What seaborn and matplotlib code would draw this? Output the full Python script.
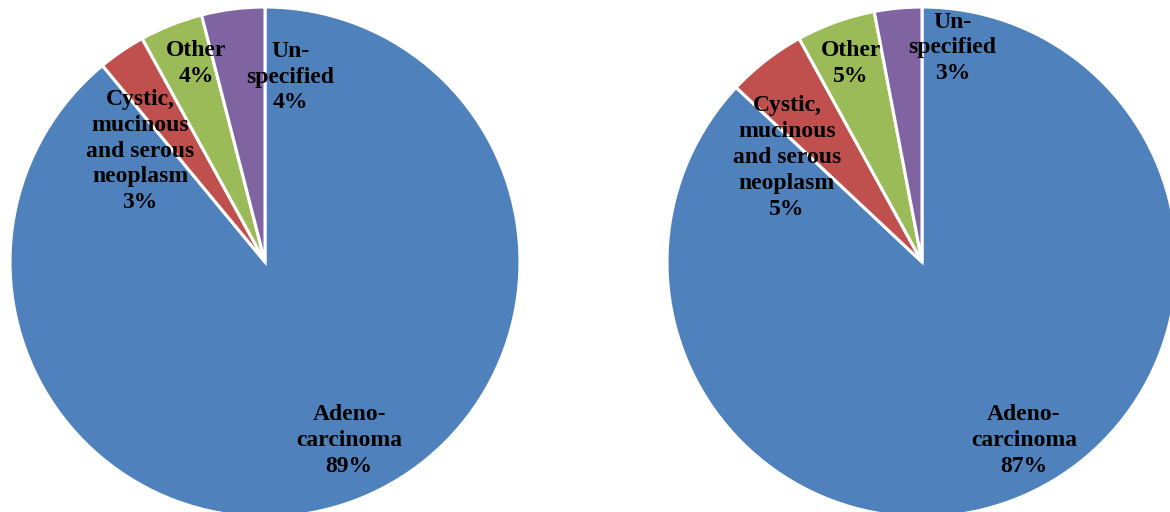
import matplotlib
matplotlib.use("Agg")
import matplotlib.pyplot as plt
import seaborn as sns

categories = ["Adeno-\ncarcinoma", "Cystic,\nmucinous\nand serous\nneoplasm", "Other", "Un-\nspecified"]
left_values = [89, 3, 4, 4]
right_values = [87, 5, 5, 3]

# label anchor points, in units of the pie radius from its centre
left_label_pos = [(0.33, -0.70), (-0.49, 0.435), (-0.27, 0.78), (0.10, 0.725)]
right_label_pos = [(0.40, -0.70), (-0.53, 0.41), (-0.28, 0.78), (0.12, 0.84)]

sns.set_theme(style="white")
plt.rcParams["font.family"] = ["Liberation Serif", "DejaVu Serif"]
palette = sns.color_palette(["#4F81BD", "#C0504D", "#9BBB59", "#8064A2"])

W, H = 1170, 512
fig = plt.figure(figsize=(W / 100, H / 100), dpi=100)
fig.patch.set_facecolor("white")


def draw_pie(cx, cy, r, values, label_pos):
    ax = fig.add_axes([(cx - r) / W, (H - cy - r) / H, 2 * r / W, 2 * r / H])
    ax.pie(values, colors=palette, startangle=90, counterclock=False,
           radius=1.0, center=(0, 0),
           wedgeprops=dict(edgecolor="white", linewidth=2.2))
    ax.set_xlim(-1, 1)
    ax.set_ylim(-1, 1)
    ax.set_aspect("equal")
    ax.axis("off")
    total = sum(values)
    for name, v, (x, y) in zip(categories, values, label_pos):
        ax.text(x, y, f"{name}\n{round(100 * v / total)}%", ha="center", va="center",
                fontsize=17, fontweight="bold", color="black", linespacing=1.3)
    return ax


draw_pie(265, 262, 255, left_values, left_label_pos)
draw_pie(922, 262, 255, right_values, right_label_pos)

fig.savefig("out.png", dpi=100)
